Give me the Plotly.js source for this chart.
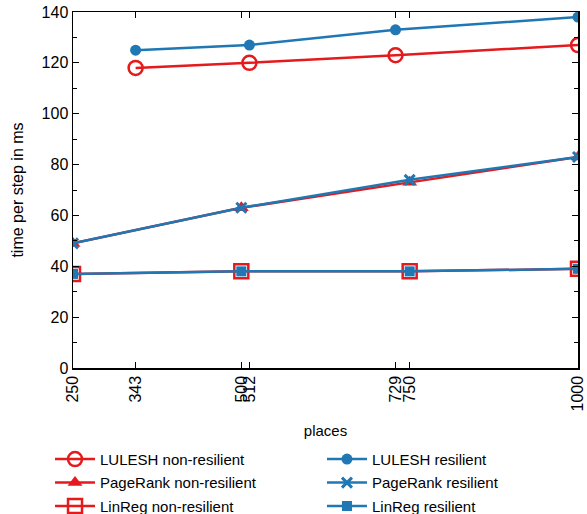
<!DOCTYPE html>
<html>
<head>
<meta charset="utf-8">
<script src="https://cdn.plot.ly/plotly-3.0.1.min.js"></script>
<style>html,body{margin:0;padding:0;background:#fff;}#chart{width:587px;height:514px;}</style>
</head>
<body>
<div id="chart"></div>
<script>
// Data
const luleshPlaces = [343, 512, 729, 1000];
const luleshNonRes = [118, 120, 123, 127];
const luleshRes = [125, 127, 133, 138];

const otherPlaces = [250, 500, 750, 1000];
const pagerankNonRes = [49, 63, 73, 83];
const pagerankRes = [49, 63, 74, 83];
const linregNonRes = [37, 38, 38, 39];
const linregRes = [37, 38, 38, 39];

const xTicks = [250, 343, 500, 512, 729, 750, 1000];
const yTicks = [0, 20, 40, 60, 80, 100, 120, 140];

const RED = '#e41a1c';
const BLUE = '#1f77b4';

function tr(name, x, y, color, symbol, size, legend, lw) {
  return {
    type: 'scatter', mode: 'lines+markers', name: name, x: x, y: y,
    line: {color: color, width: 2.5},
    marker: {color: color, symbol: symbol, size: size, line: {color: color, width: lw}},
    legend: legend, legendgroup: name
  };
}

const data = [
  tr('LULESH non-resilient', luleshPlaces, luleshNonRes, RED, 'circle-open', 14, 'legend', 2.5),
  tr('PageRank non-resilient', otherPlaces, pagerankNonRes, RED, 'triangle-up', 13, 'legend', 0),
  tr('LinReg non-resilient', otherPlaces, linregNonRes, RED, 'square-open', 14, 'legend', 2.5),
  tr('LULESH resilient', luleshPlaces, luleshRes, BLUE, 'circle', 11, 'legend2', 0),
  tr('PageRank resilient', otherPlaces, pagerankRes, BLUE, 'x-thin-open', 10, 'legend2', 3),
  tr('LinReg resilient', otherPlaces, linregRes, BLUE, 'square', 10, 'legend2', 0)
];

const font = {family: 'Liberation Sans, Arial, sans-serif', size: 15, color: '#000'};

const layout = {
  width: 587, height: 514,
  margin: {l: 73, r: 9, t: 12, b: 146, autoexpand: false},
  paper_bgcolor: '#fff', plot_bgcolor: '#fff',
  font: font,
  showlegend: true,
  xaxis: {
    range: [250, 1000], tickvals: xTicks, ticktext: xTicks.map(String),
    tickangle: -90, ticks: 'inside', ticklen: 6, tickcolor: '#000',
    showline: true, linecolor: '#000', linewidth: 1.5, mirror: 'ticks',
    showgrid: false, zeroline: false, automargin: false,
    tickfont: {size: 16},
    title: {text: 'places', font: {size: 15}, standoff: 15}
  },
  yaxis: {
    range: [0, 140], tickvals: yTicks,
    ticks: 'inside', ticklen: 6, tickcolor: '#000',
    minor: {dtick: 10, ticks: 'inside', ticklen: 4, tickcolor: '#000'},
    showline: true, linecolor: '#000', linewidth: 1.5, mirror: 'ticks',
    showgrid: false, zeroline: false, automargin: false,
    tickfont: {size: 16},
    title: {text: 'time per step in ms', font: {size: 16}, standoff: 14}
  },
  legend: {
    x: -0.0455, y: -0.435, xanchor: 'left', yanchor: 'bottom',
    orientation: 'v', font: {size: 15}, tracegroupgap: 1, itemwidth: 40,
    bgcolor: 'rgba(0,0,0,0)'
  },
  legend2: {
    x: 0.493, y: -0.435, xanchor: 'left', yanchor: 'bottom',
    orientation: 'v', font: {size: 15}, tracegroupgap: 1, itemwidth: 40,
    bgcolor: 'rgba(0,0,0,0)'
  }
};

Plotly.newPlot('chart', data, layout, {displayModeBar: false, staticPlot: true});
</script>
</body>
</html>
